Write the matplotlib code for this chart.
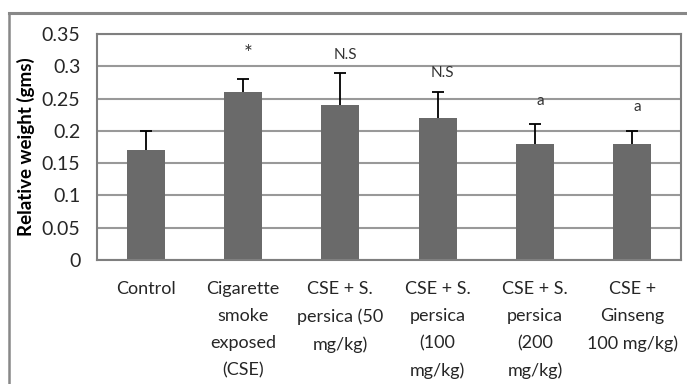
import matplotlib.pyplot as plt
from matplotlib.lines import Line2D
import numpy as np

# data
groups = ['Control', 'Cigarette\nsmoke\nexposed\n(CSE)', 'CSE + S.\npersica (50\nmg/kg)',
          'CSE + S.\npersica\n(100\nmg/kg)', 'CSE + S.\npersica\n(200\nmg/kg)', 'CSE +\nGinseng\n100 mg/kg)']
weight = [0.17, 0.26, 0.24, 0.22, 0.18, 0.18]
err = [0.03, 0.02, 0.05, 0.04, 0.03, 0.02]
marks = ['', '*', 'N.S', 'N.S', 'a', 'a']
mark_y = [0, 0.319, 0.3175, 0.29, 0.246, 0.237]
yticks = [0, 0.05, 0.1, 0.15, 0.2, 0.25, 0.3, 0.35]
ytick_labels = ['0', '0.05', '0.1', '0.15', '0.2', '0.25', '0.3', '0.35']

plt.rcParams['font.family'] = ['Lato', 'DejaVu Sans']

fig = plt.figure(figsize=(6.87, 3.84), dpi=100)
ax = fig.add_axes([0.1412, 0.3229, 0.8501, 0.5886])

x = np.arange(len(groups))
ax.bar(x, weight, width=0.39, color='#6a6a6a', zorder=2)
eb = ax.errorbar(x, weight, yerr=[np.zeros(len(err)), err], fmt='none', ecolor='black',
                 elinewidth=1.3, capsize=4, capthick=1.3, zorder=3)
# only the upper cap is shown
eb[1][0].set_visible(False)

for i in range(len(groups)):
    if marks[i]:
        fs = 15 if marks[i] == '*' else 11
        ax.text(x[i] + 0.05, mark_y[i], marks[i], ha='center', va='center', fontsize=fs, color='#333333')

ax.set_xlim(-0.5, len(groups) - 0.5)
ax.set_ylim(0, 0.35)
ax.set_yticks(yticks)
ax.set_yticklabels(ytick_labels)
ax.set_xticks(x)
ax.set_xticklabels(groups, linespacing=1.85)
ax.tick_params(axis='both', length=0, colors='#262626')
ax.tick_params(axis='y', pad=12, labelsize=14)
ax.tick_params(axis='x', pad=15, labelsize=13)
ax.yaxis.grid(True, color='#999999', linewidth=1.5, zorder=0)
ax.set_axisbelow(True)
for s in ax.spines.values():
    s.set_color('#7f7f7f')
    s.set_linewidth(1.5)

ax.set_ylabel('Relative weight (gms)', fontsize=13.5, fontweight='bold', labelpad=5)

# outer chart border (top and left visible)
fig.add_artist(Line2D([0.013, 1.0], [0.965, 0.965], color='#888888', linewidth=2.2))
fig.add_artist(Line2D([0.013, 0.013], [0.0, 0.965], color='#888888', linewidth=1.8))

fig.savefig('out.png', dpi=100)
